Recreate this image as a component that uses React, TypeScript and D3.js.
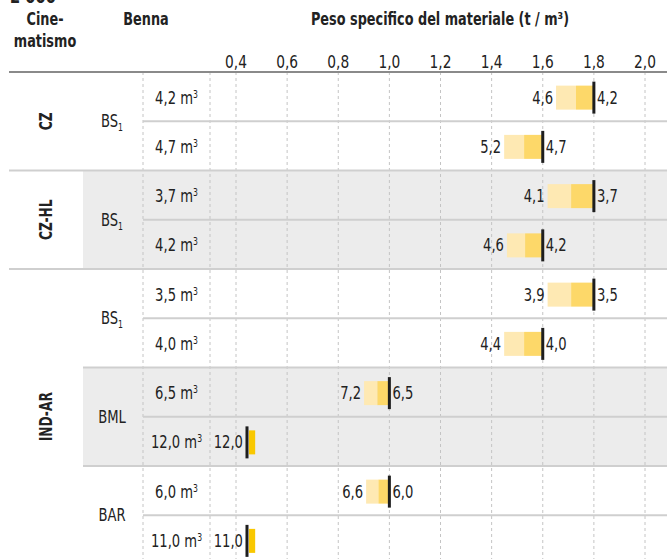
import React, { useEffect, useRef } from 'react';
import * as d3 from 'd3';

// dati
const cinematismo = ['CZ', 'CZ', 'CZ-HL', 'CZ-HL', 'IND-AR', 'IND-AR', 'IND-AR', 'IND-AR', 'IND-AR', 'IND-AR'];
const benna = ['BS', 'BS', 'BS', 'BS', 'BS', 'BS', 'BML', 'BML', 'BAR', 'BAR'];
const bennaPedice = ['1', '1', '1', '1', '1', '1', '', '', '', ''];
const capacita = ['4,2', '4,7', '3,7', '4,2', '3,5', '4,0', '6,5', '12,0', '6,0', '11,0'];
const pesoMax = [1.8, 1.6, 1.8, 1.6, 1.8, 1.6, 1.0, 0.443, 1.0, 0.443];
const inizioChiaro = [1.652, 1.449, 1.619, 1.46, 1.619, 1.449, 0.901, null, 0.909, null];
const inizioScuro = [1.73, 1.527, 1.711, 1.531, 1.711, 1.527, 0.953, null, 0.957, null];
const oltreFine = [null, null, null, null, null, null, null, 0.475, null, 0.475];
const etichettaSx = ['4,6', '5,2', '4,1', '4,6', '3,9', '4,4', '7,2', '12,0', '6,6', '11,0'];
const etichettaDx = ['4,2', '4,7', '3,7', '4,2', '3,5', '4,0', '6,5', '', '6,0', ''];
const ticks = [0.4, 0.6, 0.8, 1.0, 1.2, 1.4, 1.6, 1.8, 2.0];
const fasceGrigie = [[2, 3], [6, 7]];

const FONT = '"DejaVu Sans Condensed", "DejaVu Sans", sans-serif';
const SX = 0.86; // compressione orizzontale per imitare il carattere stretto

export default function App() {
  const ref = useRef<SVGSVGElement>(null);

  useEffect(() => {
    const svg = d3.select(ref.current);
    svg.selectAll('*').remove();
    const W = 667, H = 559;
    const top = 72, rowH = 49.25;

    const x = d3.scaleLinear().domain([0.4, 2.0]).range([236, 645]);
    const idx = d3.range(cinematismo.length);
    const y = d3.scaleBand<number>().domain(idx).range([top, top + rowH * idx.length]);
    const bh = y.bandwidth();

    const g = svg.append('g').attr('font-family', FONT).attr('font-stretch', 'condensed').attr('fill', '#222');

    // testo compresso orizzontalmente
    function txt(px: number, py: number, anchor: string, size: number, bold = false, sx = SX, rot = 0) {
      return g.append('g')
        .attr('transform', `translate(${px},${py}) rotate(${rot}) scale(${sx},1)`)
        .append('text')
        .attr('text-anchor', anchor)
        .attr('font-size', size)
        .attr('font-weight', bold ? 'bold' : 'normal');
    }

    // fasce grigie
    fasceGrigie.forEach(([a, b]) => {
      g.append('rect')
        .attr('x', 83).attr('y', y(a)!)
        .attr('width', W - 83).attr('height', y(b)! + bh - y(a)!)
        .attr('fill', '#ececec');
    });

    // linee verticali tratteggiate
    const vlines = [143, 210, ...ticks.map(t => x(t))];
    g.selectAll('line.v').data(vlines).enter().append('line')
      .attr('x1', d => d).attr('x2', d => d)
      .attr('y1', top).attr('y2', H)
      .attr('stroke', '#c4c4c4').attr('stroke-width', 1).attr('stroke-dasharray', '3,3');

    // linee orizzontali fra righe
    idx.slice(1).forEach(i => {
      let x0 = 143;
      if (cinematismo[i] !== cinematismo[i - 1]) x0 = 9;
      else if (benna[i] !== benna[i - 1]) x0 = 83;
      g.append('line')
        .attr('x1', x0).attr('x2', W)
        .attr('y1', y(i)!).attr('y2', y(i)!)
        .attr('stroke', '#cfcfcf').attr('stroke-width', 2);
    });

    // linea intestazione
    g.append('line').attr('x1', 9).attr('x2', W).attr('y1', top).attr('y2', top)
      .attr('stroke', '#8a8a8a').attr('stroke-width', 2);

    // titoli
    txt(10, 3, 'start', 19, true).text('2 000');
    txt(45, 25, 'middle', 17, true, 0.84).text('Cine-');
    txt(45, 47, 'middle', 17, true, 0.84).text('matismo');
    txt(146, 25, 'middle', 17, true, 0.84).text('Benna');
    txt(440, 25, 'middle', 17, true, 0.84).text('Peso specifico del materiale (t / m³)');

    // etichette asse
    ticks.forEach(t => {
      txt(x(t), 68, 'middle', 17, false, 0.9).text(d3.format('.1f')(t).replace('.', ','));
    });

    // gruppi cinematismo
    const gruppi = Array.from(new Set(cinematismo));
    gruppi.forEach(c => {
      const rs = idx.filter(i => cinematismo[i] === c);
      const cy = (y(rs[0])! + y(rs[rs.length - 1])! + bh) / 2;
      txt(52, cy, 'middle', 17, true, 0.8, -90).text(c);
    });

    // gruppi benna
    const chiavi = Array.from(new Set(idx.map(i => cinematismo[i] + '|' + benna[i])));
    chiavi.forEach(k => {
      const rs = idx.filter(i => cinematismo[i] + '|' + benna[i] === k);
      const cy = (y(rs[0])! + y(rs[rs.length - 1])! + bh) / 2;
      const t = txt(112, cy + 6, 'middle', 17);
      t.append('tspan').text(benna[rs[0]]);
      if (bennaPedice[rs[0]]) t.append('tspan').attr('font-size', 10).attr('dy', 4).text(bennaPedice[rs[0]]);
    });

    // capacita
    idx.forEach(i => {
      const t = txt(176.5, y(i)! + bh / 2 + 7, 'middle', 17);
      t.append('tspan').text(capacita[i] + ' m');
      t.append('tspan').attr('font-size', 10).attr('dy', -6).text('3');
    });

    // barre
    idx.forEach(i => {
      const cy = y(i)! + bh / 2 + 1;
      const xl = x(pesoMax[i]);
      if (inizioChiaro[i] != null) {
        g.append('rect').attr('x', x(inizioChiaro[i]!)).attr('y', cy - 12)
          .attr('width', x(inizioScuro[i]!) - x(inizioChiaro[i]!)).attr('height', 24).attr('fill', '#fee9b3');
        g.append('rect').attr('x', x(inizioScuro[i]!)).attr('y', cy - 12)
          .attr('width', xl - x(inizioScuro[i]!)).attr('height', 24).attr('fill', '#fdd869');
      }
      if (oltreFine[i] != null) {
        g.append('rect').attr('x', xl + 2).attr('y', cy - 12)
          .attr('width', x(oltreFine[i]!) - xl - 2).attr('height', 24).attr('fill', '#f9c800');
      }
      g.append('rect').attr('x', xl - 1.5).attr('y', cy - 16).attr('width', 3).attr('height', 32).attr('fill', '#1e1e1e');
      const sx = inizioChiaro[i] != null ? x(inizioChiaro[i]!) - 3 : xl - 4;
      txt(sx, cy + 6, 'end', 17).text(etichettaSx[i]);
      if (etichettaDx[i]) txt(xl + 3, cy + 6, 'start', 17).text(etichettaDx[i]);
    });
  }, []);

  return (
    <div style={{ position: 'absolute', left: 0, top: 0 }}>
      <svg ref={ref} width={667} height={559} style={{ display: 'block', background: '#fff' }} />
    </div>
  );
}
